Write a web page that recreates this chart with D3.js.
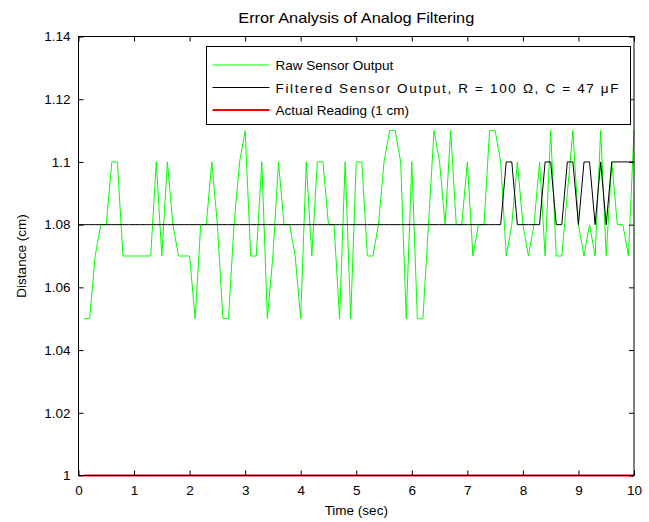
<!DOCTYPE html>
<html><head><meta charset="utf-8">
<script src="https://cdn.jsdelivr.net/npm/d3@7"></script>
<style>body{margin:0;background:#fff}svg{display:block}text{font-family:"Liberation Sans",Arial,sans-serif}</style>
</head><body><svg id="c" width="649" height="522"></svg>
<script>
// Raw sensor output, samples at t = 0.1 ... 10.0 (step 0.1)
const rawValues = [
 1.05,1.05,1.07,1.08,1.08,1.10,1.10,1.07,1.07,1.07,
 1.07,1.07,1.07,1.10,1.07,1.10,1.08,1.07,1.07,1.07,
 1.05,1.08,1.08,1.10,1.08,1.05,1.05,1.08,1.10,1.11,
 1.07,1.07,1.10,1.05,1.07,1.10,1.08,1.08,1.07,1.05,
 1.10,1.07,1.10,1.10,1.08,1.08,1.05,1.10,1.05,1.10,
 1.10,1.07,1.07,1.08,1.10,1.11,1.11,1.10,1.05,1.10,
 1.05,1.05,1.08,1.11,1.10,1.08,1.11,1.08,1.08,1.10,
 1.07,1.08,1.08,1.11,1.11,1.10,1.07,1.08,1.10,1.08,
 1.07,1.08,1.10,1.07,1.11,1.07,1.07,1.09,1.11,1.08,
 1.07,1.08,1.07,1.11,1.07,1.10,1.08,1.08,1.07,1.11
];
// Filtered sensor output, samples at t = 0.0 ... 10.0 (step 0.1)
const filteredValues = [
 1.08,1.08,1.08,1.08,1.08,1.08,1.08,1.08,1.08,1.08,
 1.08,1.08,1.08,1.08,1.08,1.08,1.08,1.08,1.08,1.08,
 1.08,1.08,1.08,1.08,1.08,1.08,1.08,1.08,1.08,1.08,
 1.08,1.08,1.08,1.08,1.08,1.08,1.08,1.08,1.08,1.08,
 1.08,1.08,1.08,1.08,1.08,1.08,1.08,1.08,1.08,1.08,
 1.08,1.08,1.08,1.08,1.08,1.08,1.08,1.08,1.08,1.08,
 1.08,1.08,1.08,1.08,1.08,1.08,1.08,1.08,1.08,1.08,
 1.08,1.08,1.08,1.08,1.08,1.08,1.08,1.10,1.10,1.08,
 1.08,1.08,1.08,1.08,1.10,1.10,1.08,1.08,1.10,1.10,
 1.08,1.10,1.10,1.08,1.10,1.08,1.10,1.10,1.10,1.10,
 1.10
];
// Actual reading
const actualTimes = [0.1, 10];
const actualValues = [1, 1];
const xTicks = [0,1,2,3,4,5,6,7,8,9,10];
const yTicks = [1,1.02,1.04,1.06,1.08,1.1,1.12,1.14];
const legendLabels = ["Raw Sensor Output","Filtered Sensor Output, R = 100 \u03A9, C = 47 \u03BCF","Actual Reading (1 cm)"];
const seriesColors = ["#00ff00","#000000","#ff0000"];

const svg = d3.select("#c");
const L = 78.5, R = 634, T = 36.5, B = 475.5;
const x = d3.scaleLinear().domain([0,10]).range([L,R]);
const y = d3.scaleLinear().domain([1,1.14]).range([B,T]);

const rawData = rawValues.map((v,i)=>[(i+1)/10, v]);
const filtData = filteredValues.map((v,i)=>[i/10, v]);
const actData = actualTimes.map((t,i)=>[t, actualValues[i]]);
const line = d3.line().x(d=>x(d[0])).y(d=>y(d[1]));

svg.append("rect").attr("x",L).attr("y",T).attr("width",R-L).attr("height",B-T).attr("fill","#fff");

svg.append("path").datum(rawData).attr("d",line).attr("fill","none").attr("stroke",seriesColors[0]).attr("stroke-width",1);
svg.append("path").datum(filtData).attr("d",line).attr("fill","none").attr("stroke",seriesColors[1]).attr("stroke-width",1);
svg.append("path").datum(actData).attr("d",line).attr("fill","none").attr("stroke",seriesColors[2]).attr("stroke-width",2);

// axes (inward ticks, box)
const tk = 5;
const xb = svg.append("g").attr("transform",`translate(0,${B})`).call(d3.axisBottom(x).tickValues(xTicks).tickSizeInner(-tk).tickSizeOuter(0).tickPadding(10).tickFormat(d3.format("d")));
const xt = svg.append("g").attr("transform",`translate(0,${T})`).call(d3.axisTop(x).tickValues(xTicks).tickSizeInner(-tk).tickSizeOuter(0).tickFormat(""));
const yl = svg.append("g").attr("transform",`translate(${L},0)`).call(d3.axisLeft(y).tickValues(yTicks).tickSizeInner(-tk).tickSizeOuter(0).tickPadding(8).tickFormat(d=>d3.format("")(+d.toFixed(2))));
const yr = svg.append("g").attr("transform",`translate(${R},0)`).call(d3.axisRight(y).tickValues(yTicks).tickSizeInner(-tk).tickSizeOuter(0).tickFormat(""));
[xb,xt,yl,yr].forEach(g=>{
  g.selectAll(".domain").remove();
  g.selectAll("line").attr("stroke","#000");
  g.selectAll("text").attr("fill","#000").style("font-size","13.5px").style("font-family","'Liberation Sans',Arial,sans-serif");
});
svg.append("rect").attr("x",L).attr("y",T).attr("width",R-L).attr("height",B-T).attr("fill","none").attr("stroke","#000").attr("stroke-width",1);

// titles
svg.append("text").attr("x",(L+R)/2).attr("y",23).attr("text-anchor","middle").style("font-size","14.5px").attr("textLength",236).attr("lengthAdjust","spacingAndGlyphs").text("Error Analysis of Analog Filtering");
svg.append("text").attr("x",(L+R)/2).attr("y",515).attr("text-anchor","middle").style("font-size","13.5px").text("Time (sec)");
svg.append("text").attr("transform",`translate(26,${(T+B)/2}) rotate(-90)`).attr("text-anchor","middle").style("font-size","13.5px").text("Distance (cm)");

// legend
const lg = svg.append("g");
const lx = 206.5, ly = 46.5, lw = 424, lh = 78;
lg.append("rect").attr("x",lx).attr("y",ly).attr("width",lw).attr("height",lh).attr("fill","#fff").attr("stroke","#000").attr("stroke-width",1);
legendLabels.forEach((lab,i)=>{
  const yy = ly + 18.5 + i*22.5;
  lg.append("line").attr("x1",lx+6).attr("x2",lx+63).attr("y1",yy).attr("y2",yy).attr("stroke",seriesColors[i]).attr("stroke-width",i===2?2:1);
  const t = lg.append("text").attr("x",lx+69).attr("y",yy+5).style("font-size","13.5px").text(lab);
  if (i===1) t.attr("textLength",343).attr("lengthAdjust","spacing");
});
</script></body></html>
